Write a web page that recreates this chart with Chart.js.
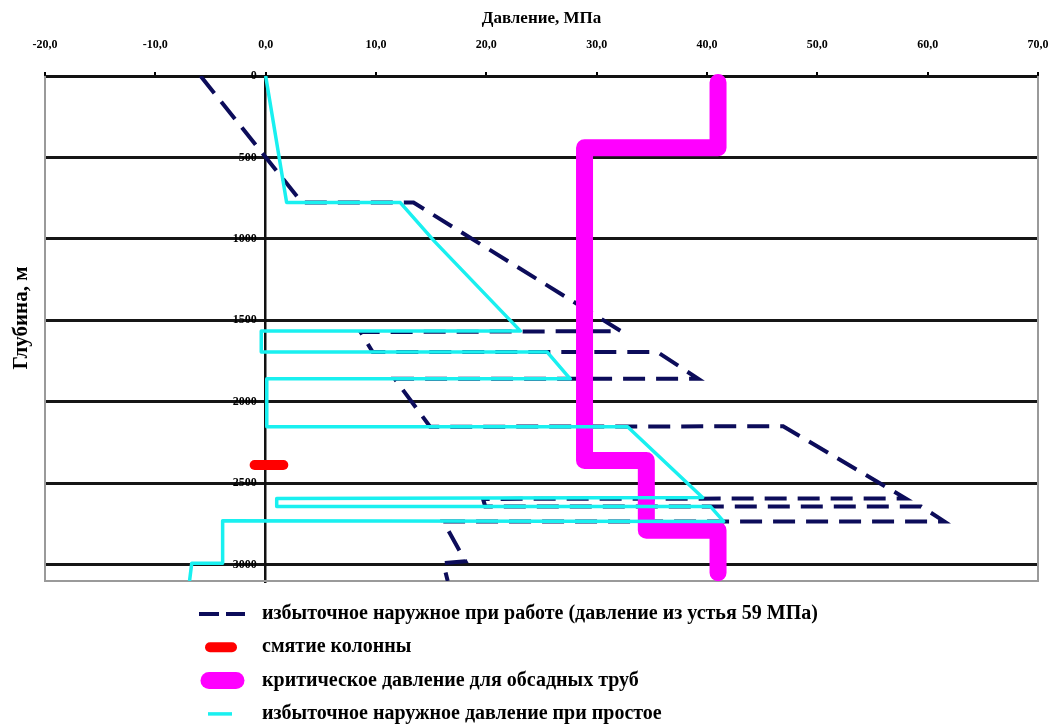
<!DOCTYPE html>
<html lang="ru">
<head>
<meta charset="utf-8">
<title>Давление по глубине</title>
<script src="https://cdn.jsdelivr.net/npm/chart.js@4.4.1/dist/chart.umd.min.js"></script>
<style>
    html, body { margin: 0; padding: 0; background: #ffffff; }
    #wrap { width: 1054px; height: 724px; }
</style>
</head>
<body>
<div id="wrap"><canvas id="pressureChart" width="1054" height="724"></canvas></div>
<script>
// оси
const pressureTicks = [-20, -10, 0, 10, 20, 30, 40, 50, 60, 70];
const depthTicks = [0, 500, 1000, 1500, 2000, 2500, 3000];
const depthMax = 3100;

// избыточное наружное при работе (давление из устья 59 МПа)
const workPressure = [-5.9, 3.3, 13.4, 32.2, 8.6, 9.7, 35.5, 39.2, 11.7, 14.9, 46.9, 58.0, 19.7, 19.9, 59.4, 61.5, 16.1, 18.1, 16.1, 16.5];
const workDepth    = [0, 777, 777, 1566, 1572, 1694, 1694, 1859, 1859, 2153, 2150, 2593, 2596, 2642, 2642, 2734, 2734, 2979, 2991, 3100];

// смятие колонны
const collapsePressure = [-1.0, 1.6];
const collapseDepth    = [2388, 2388];

// критическое давление для обсадных труб
const critPressure = [41.0, 41.0, 28.9, 28.9, 34.5, 34.5, 41.0, 41.0];
const critDepth    = [40, 440, 440, 2361, 2361, 2789, 2789, 3050];

// избыточное наружное давление при простое
const idlePressure = [0, 1.9, 12.2, 15.3, 23.1, -0.4, -0.4, 25.5, 27.6, 0.1, 0.1, 32.8, 39.6, 1.0, 1.0, 40.3, 41.5, -3.9, -3.9, -6.7, -6.9];
const idleDepth    = [0, 777, 777, 1015, 1566, 1566, 1694, 1694, 1859, 1859, 2153, 2153, 2587, 2593, 2642, 2642, 2734, 2730, 2991, 2991, 3100];

const seriesLabels = [
    "избыточное наружное при работе (давление из устья 59 МПа)",
    "смятие колонны",
    "критическое давление для обсадных труб",
    "избыточное наружное давление при простое"
];

const SERIF = "'Liberation Serif', 'DejaVu Serif', serif";

function toPoints(xs, ys) {
    return xs.map((x, i) => ({x: x, y: ys[i]}));
}

class PressureProfileChart {
    constructor(canvasId) {
        this.ctx = document.getElementById(canvasId).getContext("2d");

        this.chart = new Chart(this.ctx, {
            type: 'scatter',
            data: {
                datasets: [
                    {
                        label: seriesLabels[0],
                        data: toPoints(workPressure, workDepth),
                        showLine: true,
                        borderColor: '#0c0c5a',
                        borderWidth: 4,
                        borderDash: [22, 11],
                        pointRadius: 0,
                        order: 4,
                        legendFrom: 199, legendTo: 245, legendDash: [20, 7]
                    },
                    {
                        label: seriesLabels[1],
                        data: toPoints(collapsePressure, collapseDepth),
                        showLine: true,
                        borderColor: '#ff0000',
                        borderWidth: 10,
                        borderCapStyle: 'round',
                        pointRadius: 0,
                        order: 3,
                        legendFrom: 210, legendTo: 232
                    },
                    {
                        label: seriesLabels[2],
                        data: toPoints(critPressure, critDepth),
                        showLine: true,
                        borderColor: '#ff00ff',
                        borderWidth: 17,
                        borderCapStyle: 'round',
                        borderJoinStyle: 'round',
                        pointRadius: 0,
                        clip: false,
                        order: 2,
                        legendFrom: 209, legendTo: 236
                    },
                    {
                        label: seriesLabels[3],
                        data: toPoints(idlePressure, idleDepth),
                        showLine: true,
                        borderColor: '#19f0f0',
                        borderWidth: 3.5,
                        borderJoinStyle: 'round',
                        pointRadius: 0,
                        order: 1,
                        legendFrom: 208, legendTo: 232
                    }
                ]
            },
            options: {
                responsive: false,
                animation: false,
                events: [],
                layout: {padding: {top: 4, left: 45, right: 16, bottom: 143}},
                plugins: {
                    legend: {display: false},
                    tooltip: {enabled: false}
                },
                scales: {
                    x: {
                        type: 'linear',
                        position: 'top',
                        min: pressureTicks[0],
                        max: pressureTicks[pressureTicks.length - 1],
                        afterBuildTicks: (s) => { s.ticks = pressureTicks.map(v => ({value: v})); },
                        afterFit: (s) => {
                            s.height = 72;
                            // ticks.padding иначе уходит в боковые отступы
                            s.paddingLeft = 0;
                            s.paddingRight = 0;
                        },
                        ticks: {
                            color: '#000',
                            font: {family: SERIF, size: 12, weight: 'bold'},
                            padding: 20,
                            maxRotation: 0,
                            autoSkip: false,
                            callback: (v) => Number(v).toFixed(1).replace('.', ',')
                        },
                        grid: {drawOnChartArea: false, color: '#000', lineWidth: 2, tickLength: 4},
                        border: {color: '#111', width: 3},
                        title: {
                            display: true,
                            text: 'Давление, МПа',
                            color: '#000',
                            font: {family: SERIF, size: 17, weight: 'bold'},
                            padding: {top: 4, bottom: 0}
                        }
                    },
                    y: {
                        type: 'linear',
                        reverse: true,
                        min: 0,
                        max: depthMax,
                        position: {x: 0},
                        afterBuildTicks: (s) => { s.ticks = depthTicks.map(v => ({value: v})); },
                        ticks: {
                            color: '#000',
                            font: {family: SERIF, size: 12, weight: 'bold'},
                            autoSkip: false,
                            // метки стоят вплотную к оси, отодвигаем пробелами
                            callback: (v) => String(v) + '   '
                        },
                        grid: {color: '#161616', lineWidth: 3, tickLength: 4},
                        border: {color: '#111', width: 2.5}
                    }
                }
            },
            plugins: [
                {id: 'frame', beforeDatasetsDraw: this.drawFrame.bind(this)},
                {id: 'depthTitle', afterDraw: this.drawDepthTitle.bind(this)},
                {id: 'bottomLegend', afterDraw: this.drawLegend.bind(this)}
            ]
        });
    }

    drawFrame(chart) {
        const {ctx, chartArea: a} = chart;
        ctx.save();
        ctx.strokeStyle = '#9a9a9a';
        ctx.lineWidth = 2;
        ctx.beginPath();
        ctx.moveTo(a.left, a.top);
        ctx.lineTo(a.left, a.bottom);
        ctx.lineTo(a.right, a.bottom);
        ctx.lineTo(a.right, a.top);
        ctx.stroke();
        ctx.restore();
    }

    drawDepthTitle(chart) {
        const ctx = chart.ctx;
        ctx.save();
        ctx.translate(22, 318);
        ctx.rotate(-Math.PI / 2);
        ctx.font = `bold 21px ${SERIF}`;
        ctx.fillStyle = '#000';
        ctx.textAlign = 'center';
        ctx.textBaseline = 'middle';
        ctx.fillText('Глубина, м', 0, 0);
        ctx.restore();
    }

    drawLegend(chart) {
        const ctx = chart.ctx;
        const rowTop = chart.chartArea.bottom + 33;
        const rowStep = 33.3;
        ctx.save();
        chart.data.datasets.forEach((ds, i) => {
            const y = rowTop + i * rowStep;
            ctx.strokeStyle = ds.borderColor;
            ctx.lineWidth = ds.borderWidth;
            ctx.lineCap = ds.borderCapStyle || 'butt';
            ctx.setLineDash(ds.legendDash || []);
            ctx.beginPath();
            ctx.moveTo(ds.legendFrom, y);
            ctx.lineTo(ds.legendTo, y);
            ctx.stroke();

            ctx.setLineDash([]);
            ctx.fillStyle = '#000';
            ctx.font = `bold 20px ${SERIF}`;
            ctx.textAlign = 'left';
            ctx.textBaseline = 'middle';
            ctx.fillText(ds.label, 262, y);
        });
        ctx.restore();
    }
}

window.addEventListener("DOMContentLoaded", () => {
    new PressureProfileChart("pressureChart");
});
</script>
</body>
</html>
